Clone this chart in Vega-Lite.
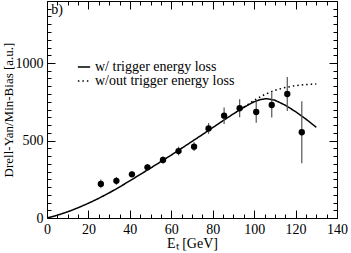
{
  "$schema": "https://vega.github.io/schema/vega-lite/v6.json",
  "width": 290,
  "height": 217,
  "autosize": {"type": "none"},
  "padding": {"left": 47, "top": 1, "right": 14, "bottom": 35},
  "config": {
    "view": {"stroke": "black", "strokeWidth": 1},
    "font": "Liberation Serif",
    "axis": {"labelFont": "Liberation Serif", "titleFont": "Liberation Serif", "labelFontSize": 14, "titleFontSize": 14, "titleFontWeight": "normal", "labelColor": "black", "titleColor": "black", "domain": false, "grid": false, "tickColor": "black"}
  },
  "datasets": {
    "pts": [
      {"E": 26, "v": 220, "lo": 192, "hi": 248},
      {"E": 33.5, "v": 240, "lo": 215, "hi": 265},
      {"E": 41, "v": 282, "lo": 264, "hi": 300},
      {"E": 48.5, "v": 327, "lo": 305, "hi": 349},
      {"E": 56, "v": 374, "lo": 352, "hi": 396},
      {"E": 63.5, "v": 432, "lo": 404, "hi": 460},
      {"E": 71, "v": 460, "lo": 432, "hi": 488},
      {"E": 78, "v": 578, "lo": 543, "hi": 613},
      {"E": 85.5, "v": 660, "lo": 607, "hi": 713},
      {"E": 93, "v": 708, "lo": 650, "hi": 766},
      {"E": 101, "v": 684, "lo": 614, "hi": 754},
      {"E": 108.5, "v": 729, "lo": 649, "hi": 809},
      {"E": 116, "v": 800, "lo": 690, "hi": 910},
      {"E": 123, "v": 553, "lo": 353, "hi": 753}
    ],
    "curves": [
      {"E": 0, "v": 0, "s": "w/ trigger energy loss"},
      {"E": 5, "v": 18, "s": "w/ trigger energy loss"},
      {"E": 10, "v": 40, "s": "w/ trigger energy loss"},
      {"E": 15, "v": 66, "s": "w/ trigger energy loss"},
      {"E": 20, "v": 95, "s": "w/ trigger energy loss"},
      {"E": 25, "v": 127, "s": "w/ trigger energy loss"},
      {"E": 30, "v": 162, "s": "w/ trigger energy loss"},
      {"E": 35, "v": 200, "s": "w/ trigger energy loss"},
      {"E": 40, "v": 240, "s": "w/ trigger energy loss"},
      {"E": 45, "v": 281, "s": "w/ trigger energy loss"},
      {"E": 50, "v": 322, "s": "w/ trigger energy loss"},
      {"E": 55, "v": 364, "s": "w/ trigger energy loss"},
      {"E": 60, "v": 406, "s": "w/ trigger energy loss"},
      {"E": 65, "v": 450, "s": "w/ trigger energy loss"},
      {"E": 70, "v": 494, "s": "w/ trigger energy loss"},
      {"E": 75, "v": 538, "s": "w/ trigger energy loss"},
      {"E": 80, "v": 583, "s": "w/ trigger energy loss"},
      {"E": 85, "v": 628, "s": "w/ trigger energy loss"},
      {"E": 90, "v": 672, "s": "w/ trigger energy loss"},
      {"E": 95, "v": 714, "s": "w/ trigger energy loss"},
      {"E": 100, "v": 750, "s": "w/ trigger energy loss"},
      {"E": 103, "v": 764, "s": "w/ trigger energy loss"},
      {"E": 106, "v": 770, "s": "w/ trigger energy loss"},
      {"E": 110, "v": 760, "s": "w/ trigger energy loss"},
      {"E": 115, "v": 728, "s": "w/ trigger energy loss"},
      {"E": 120, "v": 686, "s": "w/ trigger energy loss"},
      {"E": 125, "v": 638, "s": "w/ trigger energy loss"},
      {"E": 130, "v": 585, "s": "w/ trigger energy loss"},
      {"E": 95, "v": 714, "s": "w/out trigger energy loss"},
      {"E": 100, "v": 760, "s": "w/out trigger energy loss"},
      {"E": 105, "v": 796, "s": "w/out trigger energy loss"},
      {"E": 110, "v": 824, "s": "w/out trigger energy loss"},
      {"E": 115, "v": 842, "s": "w/out trigger energy loss"},
      {"E": 120, "v": 854, "s": "w/out trigger energy loss"},
      {"E": 125, "v": 861, "s": "w/out trigger energy loss"},
      {"E": 130, "v": 865, "s": "w/out trigger energy loss"}
    ]
  },
  "resolve": {"axis": {"x": "independent", "y": "independent"}},
  "layer": [
    {
      "data": {"name": "curves"},
      "mark": {"type": "line", "color": "black", "strokeWidth": 1.5, "clip": true},
      "encoding": {
        "x": {"field": "E", "type": "quantitative", "scale": {"domain": [0, 140], "nice": false, "zero": false},
          "axis": {"orient": "bottom", "values": [0,5,10,15,20,25,30,35,40,45,50,55,60,65,70,75,80,85,90,95,100,105,110,115,120,125,130,135,140], "format": "d",
            "labelExpr": "datum.value % 20 === 0 ? datum.label : ''", "tickSize": {"condition": {"test": "datum.value % 20 === 0", "value": -8}, "value": -4},
            "labelPadding": 12, "title": "Eₜ [GeV]", "titlePadding": 0, "labelFlush": false}},
        "y": {"field": "v", "type": "quantitative", "scale": {"domain": [0, 1400], "nice": false},
          "axis": {"orient": "left", "values": [0,50,100,150,200,250,300,350,400,450,500,550,600,650,700,750,800,850,900,950,1000,1050,1100,1150,1200,1250,1300,1350,1400], "format": "d",
            "labelExpr": "datum.value % 500 === 0 ? datum.label : ''", "tickSize": {"condition": {"test": "datum.value % 500 === 0", "value": -8}, "value": -4},
            "labelPadding": 12, "title": "Drell-Yan/Min-Bias  [a.u.]", "titleFontSize": 13, "titlePadding": 0, "labelFlush": false}},
        "strokeDash": {"field": "s", "type": "nominal", "scale": {"range": [[1, 0], [1.5, 3]]},
          "legend": {"orient": "none", "legendX": 30, "legendY": 59, "title": null, "symbolType": "stroke", "symbolSize": 150, "symbolStrokeWidth": 1.3, "symbolStrokeColor": "black", "labelFont": "Liberation Serif", "labelFontSize": 14, "labelColor": "black", "rowPadding": 0, "symbolOffset": 0}}
      }
    },
    {
      "data": {"name": "pts"},
      "mark": {"type": "rule", "color": "#555", "strokeWidth": 1.2},
      "encoding": {
        "x": {"field": "E", "type": "quantitative",
          "axis": {"orient": "top", "values": [0,5,10,15,20,25,30,35,40,45,50,55,60,65,70,75,80,85,90,95,100,105,110,115,120,125,130,135,140],
            "labels": false, "title": null, "tickSize": {"condition": {"test": "datum.value % 20 === 0", "value": -8}, "value": -4}}},
        "y": {"field": "lo", "type": "quantitative",
          "axis": {"orient": "right", "values": [0,50,100,150,200,250,300,350,400,450,500,550,600,650,700,750,800,850,900,950,1000,1050,1100,1150,1200,1250,1300,1350,1400],
            "labels": false, "title": null, "tickSize": {"condition": {"test": "datum.value % 500 === 0", "value": -8}, "value": -4}}},
        "y2": {"field": "hi"}
      }
    },
    {
      "data": {"name": "pts"},
      "mark": {"type": "circle", "color": "black", "opacity": 1, "size": 40},
      "encoding": {
        "x": {"field": "E", "type": "quantitative", "axis": null},
        "y": {"field": "v", "type": "quantitative", "axis": null}
      }
    },
    {
      "data": {"values": [{"t": "b)"}]},
      "mark": {"type": "text", "font": "Liberation Serif", "fontSize": 14, "align": "left", "baseline": "middle", "color": "black"},
      "encoding": {
        "x": {"datum": 2, "type": "quantitative", "axis": null},
        "y": {"datum": 1340, "type": "quantitative", "axis": null},
        "text": {"field": "t"}
      }
    }
  ]
}
